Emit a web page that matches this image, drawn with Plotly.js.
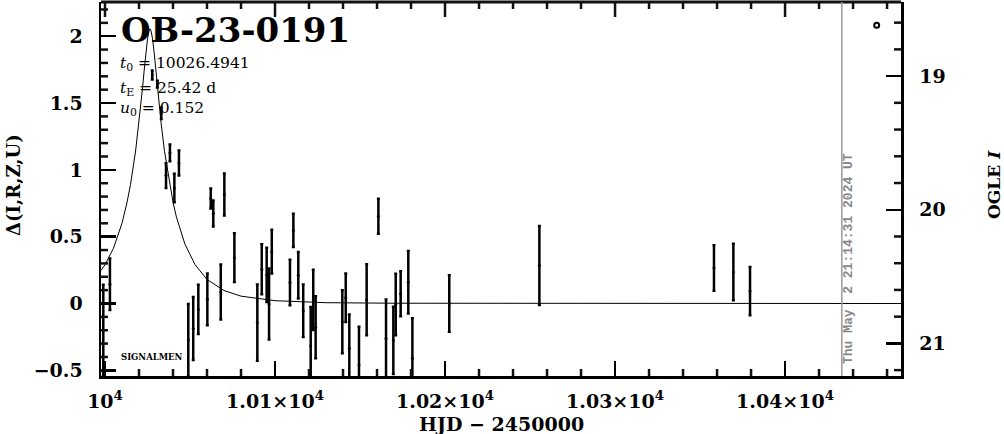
<!DOCTYPE html>
<html>
<head>
<meta charset="utf-8">
<script src="https://cdn.plot.ly/plotly-3.0.1.min.js"></script>
<style>html,body{margin:0;padding:0;background:#fff;}#chart{width:1004px;height:434px;}</style>
</head>
<body>
<div id="chart"></div>
<script>
// Photometry: HJD-2450000, delta magnitude, error
const hjd = [9999.0, 10002.9, 10027.8, 10030.8, 10033.1, 10035.9, 10038.2, 10040.8, 10043.5, 10049.0,
  10051.9, 10054.9, 10060.2, 10062.2, 10063.7, 10068.1, 10070.2, 10076.1, 10089.6, 10092.2,
  10095.1, 10096.5, 10098.1, 10108.8, 10110.8, 10113.7, 10116.6, 10121.0, 10122.5, 10123.9,
  10139.6, 10141.6, 10143.7, 10149.4, 10153.9, 10160.8, 10165.3, 10169.6, 10171.0, 10173.9,
  10178.4, 10180.8, 10202.5, 10255.5, 10358.2, 10369.6, 10379.4];
const delta = [-0.20, 0.144, 1.71, 1.642, 1.424, 0.957, 1.127, 0.864, 1.051, -0.274,
  -0.187, -0.044, 0.031, 0.786, 0.674, 0.086, 0.816, 0.343, -0.143, 0.256,
  0.215, -0.004, 0.388, 0.157, 0.547, 0.211, -0.054, -0.316, 0.027, -0.178,
  -0.137, 0.043, -0.336, -0.46, 0.028, 0.653, -0.261, -0.276, -0.007, 0.073,
  0.159, -0.41, 0.0, 0.284, 0.265, 0.236, 0.093];
const deltaErr = [0.34, 0.193, 0.034, 0.025, 0.043, 0.093, 0.062, 0.106, 0.093, 0.27,
  0.236, 0.185, 0.193, 0.075, 0.097, 0.205, 0.157, 0.182, 0.285, 0.187,
  0.203, 0.265, 0.164, 0.171, 0.124, 0.174, 0.196, 0.29, 0.226, 0.232,
  0.236, 0.181, 0.254, 0.286, 0.265, 0.131, 0.29, 0.251, 0.23, 0.168,
  0.234, 0.3, 0.212, 0.296, 0.17, 0.212, 0.18];

// Model curve
const modelT = [9997.65, 10000, 10005, 10010, 10013, 10015, 10018, 10020, 10022, 10023, 10024, 10025, 10026,
  10026.49, 10027, 10028, 10029, 10030, 10031, 10033, 10035, 10038, 10040, 10042, 10047, 10053, 10060,
  10070, 10080, 10100, 10130, 10170, 10220, 10300, 10468.2];
const modelDelta = [0.247, 0.290, 0.414, 0.601, 0.759, 0.891, 1.141, 1.352, 1.602, 1.739, 1.870, 1.981, 2.046,
  2.055, 2.045, 1.980, 1.868, 1.738, 1.598, 1.350, 1.139, 0.890, 0.758, 0.648, 0.445, 0.290, 0.180,
  0.097, 0.055, 0.021, 0.006, 0.002, 0.001, 0.0002, 0.0];

// Small open circle near the top right (OGLE I scale)
const markT = [10453.9];
const markMag = [18.62];

const xTickVals = [10000, 10100, 10200, 10300, 10400];
const xTickText = ['10<sup>4</sup>', '1.01×10<sup>4</sup>', '1.02×10<sup>4</sup>', '1.03×10<sup>4</sup>', '1.04×10<sup>4</sup>'];
const yTickVals = [-0.5, 0, 0.5, 1, 1.5, 2];
const yTickText = ['−0.5', '0', '0.5', '1', '1.5', '2'];
const magTickVals = [19, 20, 21];
const magTickText = ['19', '20', '21'];

const eventName = 'OB-23-0191';
const paramLines = ['<i>t</i><sub>0</sub> = 10026.4941', '<i>t</i><sub>E</sub> = 25.42 d', '<i>u</i><sub>0</sub> = 0.152'];
const dateStamp = 'Thu May\u00a0\u00a02 21:14:31 2024 UT';
const cutLine = 10433.4;

// ranges and tick steps
const xRange = [9997.65, 10468.2];
const dRange = [-0.5425, 2.256];
const magRange = [21.244, 18.4455];
const xMinorStep = 20, dMinorStep = 0.1, magMinorStep = 0.2;

// layout geometry
const W = 1004, H = 434, L = 101, R = 901, T = 2, B = 376;
const PW = R - L, PH = B - T;
const px = x => (x - L) / PW;
const py = y => (B - y) / PH;
const MAJ = 15, MIN = 7;
const INK = '#111';

const serif = 'DejaVu Serif, serif';
const tickFont = {family: serif, size: 19, color: '#000', weight: 'bold'};

const traces = [
  {x: modelT, y: modelDelta, type: 'scatter', mode: 'lines',
   line: {color: '#000', width: 1}, hoverinfo: 'skip', showlegend: false},
  {x: hjd, y: delta, type: 'scatter', mode: 'markers',
   marker: {color: '#000', size: 3},
   error_y: {type: 'data', array: deltaErr, visible: true, color: '#000', thickness: 2.5, width: 1.5},
   showlegend: false},
  {x: markT, y: markMag, yaxis: 'y2', type: 'scatter', mode: 'markers',
   marker: {symbol: 'circle-open', size: 5, color: '#000', line: {width: 2, color: '#000'}},
   showlegend: false}
];

// minor ticks and top (mirrored) ticks drawn as shapes on the axes' scales
const shapes = [];
const tk = () => ({color: INK, width: 2.5});
for (let i = 0; 10000 + i * xMinorStep <= xRange[1]; i++) {
  const v = 10000 + i * xMinorStep;
  const isMajor = (i % 5) === 0;
  shapes.push({type: 'line', layer: 'above', xref: 'x', yref: 'paper', x0: v, x1: v, y0: 1, y1: 1 - (isMajor ? MAJ : MIN) / PH, line: tk()});
  if (!isMajor) shapes.push({type: 'line', layer: 'above', xref: 'x', yref: 'paper', x0: v, x1: v, y0: 0, y1: MIN / PH, line: tk()});
}
for (let i = -5; i * dMinorStep <= dRange[1]; i++) {
  if (i % 5 === 0) continue;
  const v = i * dMinorStep;
  shapes.push({type: 'line', layer: 'above', xref: 'paper', yref: 'y', x0: 0, x1: MIN / PW, y0: v, y1: v, line: tk()});
}
for (let i = 93; i * magMinorStep <= magRange[0]; i++) {
  if (i % 5 === 0) continue;
  const v = i * magMinorStep;
  shapes.push({type: 'line', layer: 'above', xref: 'paper', yref: 'y2', x0: 1, x1: 1 - MIN / PW, y0: v, y1: v, line: tk()});
}
shapes.push({type: 'line', layer: 'above', xref: 'paper', yref: 'paper', x0: 0, x1: 1, y0: 1, y1: 1, line: {color: INK, width: 3}});
shapes.push({type: 'line', layer: 'above', xref: 'x', yref: 'paper', x0: cutLine, x1: cutLine, y0: 0, y1: 1,
  line: {color: '#999', width: 1.5}});

const ann = [];
ann.push({text: eventName, xref: 'paper', yref: 'paper', x: px(119), y: py(30), xanchor: 'left', yanchor: 'middle',
  showarrow: false, font: {family: serif, size: 34, color: '#000', weight: 'bold'}});
const paramY = [63, 88, 108];
paramLines.forEach((t, i) => ann.push({text: t, xref: 'paper', yref: 'paper', x: px(118), y: py(paramY[i] + 1),
  xanchor: 'left', yanchor: 'middle', showarrow: false, font: {family: serif, size: 15.5, color: '#000'}}));
ann.push({text: 'SIGNALMEN', xref: 'paper', yref: 'paper', x: px(119), y: py(357), xanchor: 'left', yanchor: 'middle',
  showarrow: false, font: {family: serif, size: 8.5, color: '#000', weight: 'bold'}});
ann.push({text: dateStamp, xref: 'paper', yref: 'paper', x: px(848), y: py(259), xanchor: 'center', yanchor: 'middle',
  textangle: -90, showarrow: false, font: {family: 'Liberation Mono, monospace', size: 13, color: '#888', weight: 'bold'}});
ann.push({text: 'Δ(I,R,Z,U)', xref: 'paper', yref: 'paper', x: px(14), y: py(185), xanchor: 'center', yanchor: 'middle',
  textangle: -90, showarrow: false, font: {family: serif, size: 18, color: '#000', weight: 'bold'}});
ann.push({text: 'OGLE <i>I</i>', xref: 'paper', yref: 'paper', x: px(994), y: py(185), xanchor: 'center', yanchor: 'middle',
  textangle: -90, showarrow: false, font: {family: serif, size: 17, color: '#000', weight: 'bold'}});
ann.push({text: 'HJD − 2450000', xref: 'paper', yref: 'paper', x: px(501), y: py(424), xanchor: 'center', yanchor: 'middle',
  showarrow: false, font: {family: serif, size: 19, color: '#000', weight: 'bold'}});

const noGrid = {showgrid: false, zeroline: false};
const layout = {
  width: W, height: H,
  margin: {l: L, r: W - R, t: T, b: H - B, pad: 0},
  paper_bgcolor: '#fff', plot_bgcolor: '#fff',
  showlegend: false,
  xaxis: Object.assign({range: xRange, tickmode: 'array', tickvals: xTickVals, ticktext: xTickText,
    ticks: 'inside', ticklen: MAJ, tickwidth: 2.5, tickcolor: '#000',
    showline: true, linewidth: 2.5, linecolor: '#000',
    tickfont: tickFont, ticklabelstandoff: 7}, noGrid),
  yaxis: Object.assign({range: dRange, tickmode: 'array', tickvals: yTickVals, ticktext: yTickText,
    ticks: 'inside', ticklen: MAJ, tickwidth: 2.5, tickcolor: '#000',
    showline: true, linewidth: 2.5, linecolor: '#000',
    tickfont: tickFont, ticklabelstandoff: 12}, noGrid),
  yaxis2: Object.assign({overlaying: 'y', side: 'right', anchor: 'x', range: magRange,
    tickmode: 'array', tickvals: magTickVals, ticktext: magTickText,
    ticks: 'inside', ticklen: MAJ, tickwidth: 2.5, tickcolor: '#000',
    showline: true, linewidth: 2.5, linecolor: '#000',
    tickfont: tickFont, ticklabelstandoff: 12}, noGrid),
  shapes: shapes,
  annotations: ann
};

Plotly.newPlot('chart', traces, layout, {staticPlot: true, displayModeBar: false});
</script>
</body>
</html>
